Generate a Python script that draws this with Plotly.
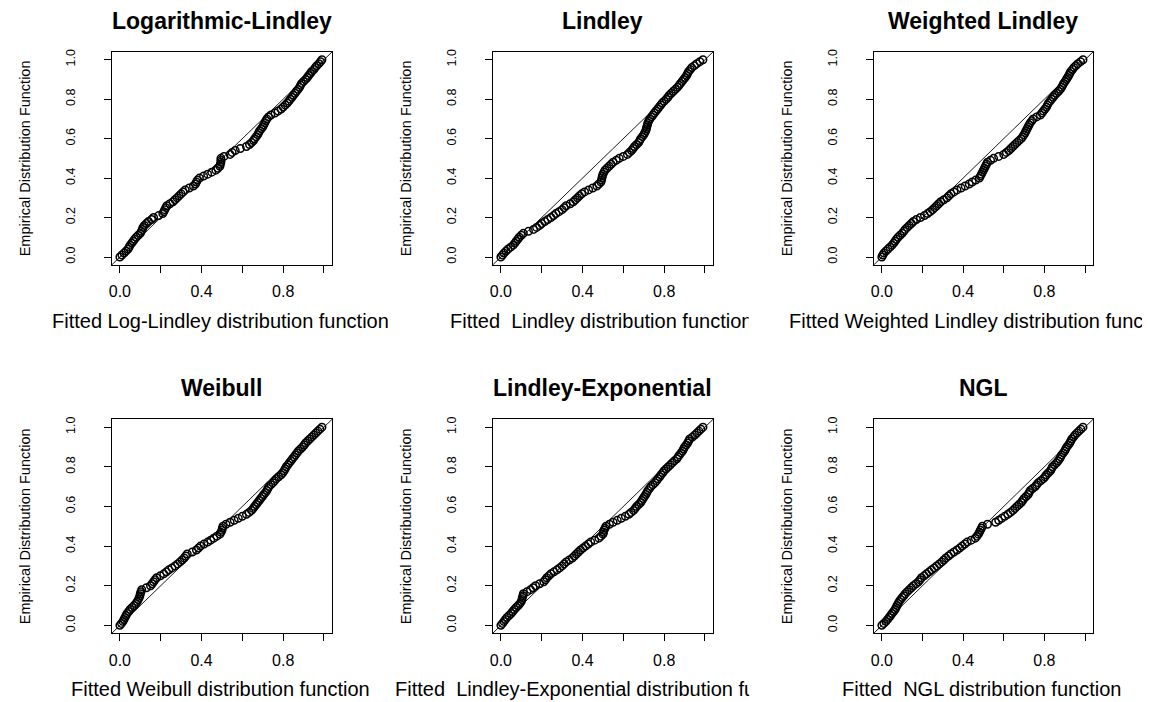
import plotly.graph_objects as go

# ---------------- data ----------------
# empirical distribution function levels (shared by all six P-P plots)
EMP = [0.00, 0.01, 0.02, 0.03, 0.04, 0.05, 0.06, 0.07, 0.08, 0.09,
       0.10, 0.11, 0.12, 0.13, 0.14, 0.15, 0.16, 0.17, 0.18, 0.19,
       0.20, 0.21, 0.22, 0.23, 0.24, 0.25, 0.26, 0.27, 0.28, 0.29,
       0.30, 0.31, 0.32, 0.33, 0.34, 0.35, 0.36, 0.37, 0.38, 0.39,
       0.40, 0.41, 0.42, 0.43, 0.44, 0.45, 0.46, 0.47, 0.48, 0.49,
       0.50, 0.51, 0.52, 0.53, 0.54, 0.55, 0.56, 0.57, 0.58, 0.59,
       0.60, 0.61, 0.62, 0.63, 0.64, 0.65, 0.66, 0.67, 0.68, 0.69,
       0.70, 0.71, 0.72, 0.73, 0.74, 0.75, 0.76, 0.77, 0.78, 0.79,
       0.80, 0.81, 0.82, 0.83, 0.84, 0.85, 0.86, 0.87, 0.88, 0.89,
       0.90, 0.91, 0.92, 0.93, 0.94, 0.95, 0.96, 0.97, 0.98, 0.99,
       1.00]

LOG_LINDLEY = [0.00, 0.01, 0.02, 0.03, 0.04, 0.045, 0.05, 0.058, 0.065, 0.072,
               0.08, 0.09, 0.10, 0.105, 0.11, 0.113, 0.12, 0.13, 0.14, 0.155,
               0.165, 0.19, 0.21, 0.215, 0.22, 0.225, 0.23, 0.245, 0.26, 0.27,
               0.28, 0.29, 0.30, 0.31, 0.32, 0.34, 0.36, 0.37, 0.375, 0.38,
               0.39, 0.41, 0.43, 0.45, 0.47, 0.48, 0.49, 0.492, 0.495, 0.495,
               0.495, 0.51, 0.54, 0.55, 0.565, 0.59, 0.62, 0.635, 0.645, 0.655,
               0.66, 0.668, 0.675, 0.68, 0.685, 0.693, 0.70, 0.705, 0.71, 0.715,
               0.72, 0.728, 0.74, 0.76, 0.775, 0.79, 0.80, 0.81, 0.82, 0.828,
               0.835, 0.843, 0.85, 0.858, 0.865, 0.873, 0.88, 0.885, 0.89, 0.90,
               0.91, 0.918, 0.925, 0.933, 0.94, 0.95, 0.957, 0.965, 0.975, 0.983,
               0.99]

LINDLEY = [0.00, 0.008, 0.015, 0.025, 0.035, 0.048, 0.06, 0.068, 0.075, 0.083,
           0.09, 0.10, 0.11, 0.135, 0.16, 0.175, 0.19, 0.20, 0.215, 0.23,
           0.245, 0.258, 0.27, 0.285, 0.30, 0.31, 0.32, 0.34, 0.355, 0.365,
           0.375, 0.385, 0.396, 0.41, 0.43, 0.45, 0.47, 0.48, 0.49, 0.493,
           0.495, 0.497, 0.50, 0.505, 0.51, 0.52, 0.53, 0.54, 0.55, 0.565,
           0.58, 0.60, 0.62, 0.63, 0.64, 0.648, 0.655, 0.665, 0.675, 0.68,
           0.685, 0.693, 0.70, 0.705, 0.71, 0.713, 0.715, 0.718, 0.72, 0.725,
           0.73, 0.738, 0.745, 0.752, 0.76, 0.768, 0.775, 0.783, 0.79, 0.80,
           0.81, 0.818, 0.825, 0.835, 0.845, 0.855, 0.865, 0.873, 0.88, 0.888,
           0.895, 0.903, 0.91, 0.915, 0.92, 0.928, 0.935, 0.948, 0.96, 0.975,
           0.99]

WEIGHTED_LINDLEY = [0.00, 0.005, 0.01, 0.02, 0.03, 0.04, 0.05, 0.058, 0.065, 0.072,
                    0.08, 0.09, 0.10, 0.108, 0.115, 0.125, 0.135, 0.145, 0.155, 0.17,
                    0.19, 0.21, 0.225, 0.238, 0.25, 0.26, 0.27, 0.28, 0.29, 0.305,
                    0.32, 0.33, 0.34, 0.355, 0.37, 0.39, 0.41, 0.43, 0.445, 0.462,
                    0.48, 0.485, 0.49, 0.495, 0.50, 0.505, 0.51, 0.515, 0.52, 0.535,
                    0.55, 0.575, 0.60, 0.613, 0.625, 0.635, 0.645, 0.655, 0.665, 0.675,
                    0.686, 0.693, 0.70, 0.705, 0.71, 0.715, 0.72, 0.725, 0.73, 0.738,
                    0.745, 0.762, 0.78, 0.788, 0.795, 0.803, 0.81, 0.815, 0.82, 0.828,
                    0.835, 0.843, 0.85, 0.86, 0.87, 0.878, 0.885, 0.89, 0.895, 0.902,
                    0.908, 0.914, 0.92, 0.925, 0.93, 0.938, 0.945, 0.955, 0.965, 0.978,
                    0.99]

WEIBULL = [0.00, 0.008, 0.015, 0.02, 0.025, 0.03, 0.035, 0.043, 0.05, 0.06,
           0.07, 0.078, 0.085, 0.09, 0.095, 0.098, 0.10, 0.103, 0.107, 0.13,
           0.15, 0.158, 0.165, 0.172, 0.18, 0.198, 0.215, 0.228, 0.24, 0.255,
           0.27, 0.283, 0.295, 0.305, 0.315, 0.322, 0.33, 0.355, 0.375, 0.385,
           0.395, 0.412, 0.43, 0.445, 0.46, 0.475, 0.49, 0.495, 0.50, 0.502,
           0.505, 0.52, 0.54, 0.56, 0.58, 0.60, 0.62, 0.633, 0.645, 0.653,
           0.66, 0.668, 0.675, 0.683, 0.69, 0.698, 0.705, 0.713, 0.72, 0.725,
           0.73, 0.74, 0.75, 0.758, 0.767, 0.778, 0.79, 0.798, 0.805, 0.81,
           0.815, 0.823, 0.83, 0.838, 0.845, 0.853, 0.86, 0.868, 0.875, 0.885,
           0.895, 0.903, 0.91, 0.92, 0.93, 0.94, 0.95, 0.96, 0.97, 0.98,
           0.99]

LINDLEY_EXP = [0.00, 0.008, 0.015, 0.022, 0.03, 0.04, 0.05, 0.058, 0.066, 0.075,
               0.085, 0.093, 0.10, 0.103, 0.105, 0.108, 0.11, 0.128, 0.145, 0.158,
               0.17, 0.19, 0.21, 0.218, 0.225, 0.235, 0.245, 0.26, 0.275, 0.288,
               0.30, 0.31, 0.32, 0.335, 0.35, 0.36, 0.37, 0.38, 0.39, 0.402,
               0.415, 0.428, 0.44, 0.46, 0.48, 0.49, 0.50, 0.503, 0.505, 0.51,
               0.515, 0.532, 0.55, 0.57, 0.59, 0.61, 0.627, 0.638, 0.65, 0.658,
               0.665, 0.675, 0.685, 0.691, 0.697, 0.703, 0.71, 0.715, 0.72, 0.728,
               0.735, 0.745, 0.755, 0.763, 0.77, 0.778, 0.785, 0.793, 0.80, 0.81,
               0.82, 0.83, 0.84, 0.85, 0.862, 0.868, 0.875, 0.883, 0.89, 0.895,
               0.90, 0.908, 0.915, 0.92, 0.925, 0.938, 0.95, 0.96, 0.97, 0.98,
               0.99]

NGL = [0.00, 0.01, 0.02, 0.028, 0.036, 0.043, 0.05, 0.058, 0.065, 0.07,
       0.075, 0.08, 0.085, 0.092, 0.10, 0.108, 0.115, 0.125, 0.135, 0.145,
       0.155, 0.168, 0.18, 0.188, 0.195, 0.208, 0.22, 0.233, 0.245, 0.258,
       0.27, 0.283, 0.295, 0.305, 0.315, 0.328, 0.34, 0.355, 0.37, 0.383,
       0.395, 0.408, 0.42, 0.44, 0.46, 0.468, 0.475, 0.48, 0.485, 0.49,
       0.495, 0.52, 0.56, 0.575, 0.59, 0.605, 0.62, 0.633, 0.645, 0.655,
       0.665, 0.675, 0.686, 0.693, 0.70, 0.71, 0.72, 0.725, 0.73, 0.742,
       0.755, 0.762, 0.77, 0.783, 0.795, 0.803, 0.81, 0.82, 0.83, 0.835,
       0.84, 0.85, 0.86, 0.868, 0.875, 0.88, 0.885, 0.893, 0.90, 0.905,
       0.91, 0.918, 0.925, 0.93, 0.935, 0.943, 0.95, 0.96, 0.97, 0.98,
       0.99]

PANEL_TITLES = ["Logarithmic-Lindley", "Lindley", "Weighted Lindley",
                "Weibull", "Lindley-Exponential", "NGL"]
X_TITLES = ["Fitted Log-Lindley distribution function",
            "Fitted\u00a0 Lindley distribution function",
            "Fitted Weighted Lindley distribution function",
            "Fitted Weibull distribution function",
            "Fitted\u00a0 Lindley-Exponential distribution function",
            "Fitted\u00a0 NGL distribution function"]
Y_TITLE = "Empirical Distribution Function"
SERIES = [LOG_LINDLEY, LINDLEY, WEIGHTED_LINDLEY, WEIBULL, LINDLEY_EXP, NGL]

X_TICKS = [0.0, 0.2, 0.4, 0.6, 0.8, 1.0]
X_TICKTEXT = ["0.0", "", "0.4", "", "0.8", ""]
Y_TICKS = [0.0, 0.2, 0.4, 0.6, 0.8, 1.0]
Y_TICKTEXT = ["0.0", "0.2", "0.4", "0.6", "0.8", "1.0"]

# ---------------- layout (pixels of the 1150x702 page) ----------------
PAGE_W, PAGE_H = 1150, 702
OFF = 8                       # default body margin of the html page
W, H = PAGE_W - OFF, PAGE_H - OFF
BOX_L = [109, 491, 873]
BOX_R = [330, 712, 1093]
ROW_T = [49, 418]
ROW_B = [263, 633]
CLIP = [(0, 387), (390, 749), (749, 1150)]   # horizontal figure regions
FONT = "Liberation Sans, Arial, sans-serif"
XT_SIZE = 20

# Arial advance widths (per 1000 em) for placing the clipped x titles
AW = {' ': 278, '\u00a0': 278, '-': 333, 'E': 667, 'F': 611, 'G': 778, 'L': 556,
      'N': 722, 'W': 944, 'a': 556, 'b': 556, 'c': 500, 'd': 556, 'e': 556,
      'f': 278, 'g': 556, 'h': 556, 'i': 222, 'l': 222, 'n': 556, 'o': 556,
      'p': 556, 'r': 333, 's': 500, 't': 278, 'u': 556, 'x': 500, 'y': 500}


def text_w(s, size):
    return sum(AW.get(c, 556) for c in s) * size / 1000.0


def px(x):
    return (x - OFF) / W


def py(y):
    return 1 - (y - OFF) / H


fig = go.Figure()
annotations = []
shapes = []
layout_axes = {}

for k in range(6):
    r, c = divmod(k, 3)
    n = "" if k == 0 else str(k + 1)
    xa, ya = "x" + n, "y" + n
    fig.add_trace(go.Scatter(
        x=SERIES[k], y=EMP, mode="markers", xaxis=xa, yaxis=ya,
        marker=dict(symbol="circle-open", size=7.5, color="black",
                    line=dict(width=1.5, color="black")),
        showlegend=False, hoverinfo="x+y"))

    common = dict(range=[-0.04, 1.04], showgrid=False, zeroline=False,
                  showline=True, mirror=True, linecolor="black", linewidth=1.4,
                  ticks="outside", ticklen=7, tickcolor="black", tickwidth=1.3,
                  fixedrange=True)
    layout_axes["xaxis" + n] = dict(
        common, domain=[px(BOX_L[c]), px(BOX_R[c])], anchor=ya,
        tickvals=X_TICKS, ticktext=X_TICKTEXT,
        tickfont=dict(family=FONT, size=16, color="black"),
        ticklabelstandoff=5)
    layout_axes["yaxis" + n] = dict(
        common, domain=[py(ROW_B[r]), py(ROW_T[r])], anchor=xa,
        tickvals=Y_TICKS, ticktext=Y_TICKTEXT, tickangle=-90,
        tickfont=dict(family=FONT, size=12.5, color="black"),
        ticklabelstandoff=24)

    shapes.append(dict(type="line", xref=xa + " domain", yref=ya + " domain",
                       x0=0, y0=0, x1=1, y1=1,
                       line=dict(color="black", width=0.9)))

    cx = (BOX_L[c] + BOX_R[c]) / 2
    # panel title
    annotations.append(dict(
        text="<b>" + PANEL_TITLES[k] + "</b>", xref="paper", yref="paper",
        x=px(cx), y=py(ROW_T[r] - 31), xanchor="center", yanchor="middle",
        showarrow=False, font=dict(family=FONT, size=23, color="black")))
    # y title
    annotations.append(dict(
        text=Y_TITLE, xref="paper", yref="paper", textangle=-90,
        x=px(BOX_L[c] - 87), y=py((ROW_T[r] + ROW_B[r]) / 2),
        xanchor="center", yanchor="middle", showarrow=False,
        font=dict(family=FONT, size=14.5, color="black")))
    # x title, clipped to its figure region like the R device
    tw = text_w(X_TITLES[k], XT_SIZE)
    start = max(cx - tw / 2, CLIP[c][0])
    annotations.append(dict(
        text=X_TITLES[k], xref="paper", yref="paper",
        x=px(start - 2), y=py(ROW_B[r] + 56), xanchor="left", yanchor="middle",
        width=CLIP[c][1] - start, align="left", borderpad=0, borderwidth=0,
        showarrow=False, font=dict(family=FONT, size=XT_SIZE, color="black")))

fig.update_layout(
    width=W, height=H, margin=dict(l=0, r=0, t=0, b=0),
    paper_bgcolor="white", plot_bgcolor="white",
    annotations=annotations, shapes=shapes, **layout_axes)

fig.write_html("out.html")
